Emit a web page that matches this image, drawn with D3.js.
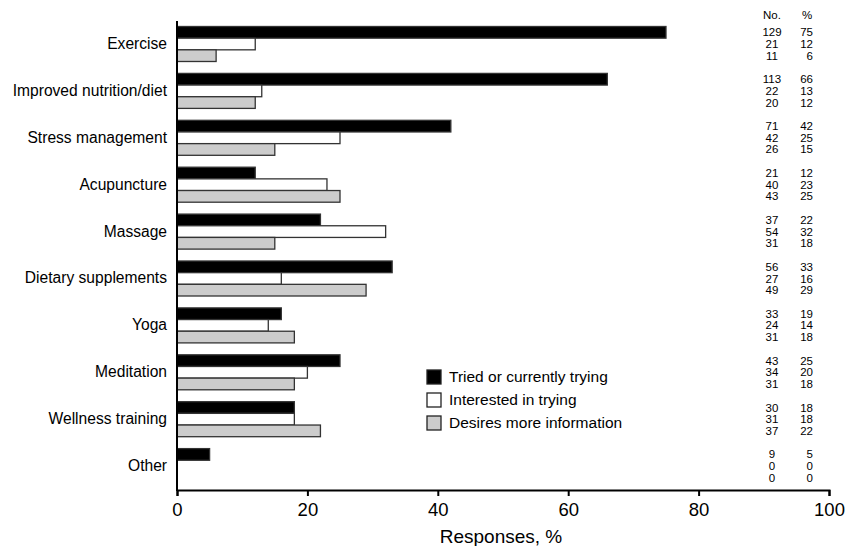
<!DOCTYPE html>
<html><head><meta charset="utf-8">
<script src="https://cdn.jsdelivr.net/npm/d3@7"></script>
<style>
body{margin:0;background:#fff;}
svg text{font-family:"Liberation Sans",Arial,sans-serif;fill:#000;}
</style></head>
<body><svg id="c" width="861" height="546"></svg>
<script>
const categories = ["Exercise","Improved nutrition/diet","Stress management","Acupuncture","Massage","Dietary supplements","Yoga","Meditation","Wellness training","Other"];
const seriesNames = ["Tried or currently trying","Interested in trying","Desires more information"];
const seriesColors = ["#000000","#ffffff","#cccccc"];
// bar lengths (percent) as drawn
const tried      = [75,66,42,12,22,33,16,25,18,5];
const interested = [12,13,25,23,32,16,14,20,18,0];
const desires    = [6,12,15,25,15,29,18,18,22,0];
// table at right
const triedNo      = [129,113,71,21,37,56,33,43,30,9];
const triedPct     = [75,66,42,12,22,33,19,25,18,5];
const interestedNo = [21,22,42,40,54,27,24,34,31,0];
const interestedPct= [12,13,25,23,32,16,14,20,18,0];
const desiresNo    = [11,20,26,43,31,49,31,31,37,0];
const desiresPct   = [6,12,15,25,18,29,18,18,22,0];
const xTicks = [0,20,40,60,80,100];

const svg = d3.select("#c");
const x = d3.scaleLinear().domain([0,100]).range([177,829]);
const y = d3.scaleBand().domain(categories).range([21,490]).padding(0);
const inner = d3.scaleBand().domain([0,1,2]).range([5.5,40.5]).padding(0);

const seriesVals = [tried, interested, desires];
const nos = [triedNo, interestedNo, desiresNo];
const pcts = [triedPct, interestedPct, desiresPct];

categories.forEach((c,i)=>{
  seriesVals.forEach((vals,s)=>{
    const v = vals[i];
    if (v>0) {
      svg.append("rect")
        .attr("x", x(0)).attr("y", y(c)+inner(s))
        .attr("width", x(v)-x(0)).attr("height", inner.bandwidth())
        .attr("fill", seriesColors[s]).attr("stroke","#333").attr("stroke-width",1.3);
    }
    const cy = y(c)+inner(s)+inner.bandwidth()/2;
    svg.append("text").attr("x",772).attr("y",cy).attr("dy","0.35em")
      .attr("text-anchor","middle").attr("font-size",11.5).text(nos[s][i]);
    svg.append("text").attr("x",813).attr("y",cy).attr("dy","0.35em")
      .attr("text-anchor","end").attr("font-size",11.5).text(pcts[s][i]);
  });
  svg.append("text").attr("x",167).attr("y",y(c)+y.bandwidth()/2 - 1).attr("dy","0.35em")
    .attr("text-anchor","end").attr("font-size",15.6).text(c);
});

svg.append("text").attr("x",772).attr("y",15).attr("dy","0.35em").attr("text-anchor","middle").attr("font-size",11.5).text("No.");
svg.append("text").attr("x",807).attr("y",15).attr("dy","0.35em").attr("text-anchor","middle").attr("font-size",11.5).text("%");

// axes
const xAxis = svg.append("g").attr("transform","translate(0,490)")
  .call(d3.axisBottom(x).tickValues(xTicks).tickSize(6).tickPadding(7).tickSizeOuter(6));
xAxis.select(".domain").attr("stroke","#000").attr("stroke-width",2);
xAxis.selectAll(".tick line").attr("stroke","#000").attr("stroke-width",2);
xAxis.selectAll(".tick text").attr("font-size",18.5).attr("font-family","Liberation Sans, Arial, sans-serif").attr("fill","#000");

svg.append("line").attr("x1",x(0)).attr("x2",x(0)).attr("y1",21).attr("y2",491)
  .attr("stroke","#000").attr("stroke-width",2);

svg.append("text").attr("x",(x(0)+x(100))/2 - 2).attr("y",543).attr("text-anchor","middle")
  .attr("font-size",19).text("Responses, %");

// legend
const lg = svg.append("g");
seriesNames.forEach((n,s)=>{
  const ly = 370 + s*23;
  lg.append("rect").attr("x",427).attr("y",ly).attr("width",14).attr("height",14)
    .attr("fill",seriesColors[s]).attr("stroke","#222").attr("stroke-width",1.3);
  lg.append("text").attr("x",449).attr("y",ly+7).attr("dy","0.35em").attr("font-size",15.5).text(n);
});
</script></body></html>
